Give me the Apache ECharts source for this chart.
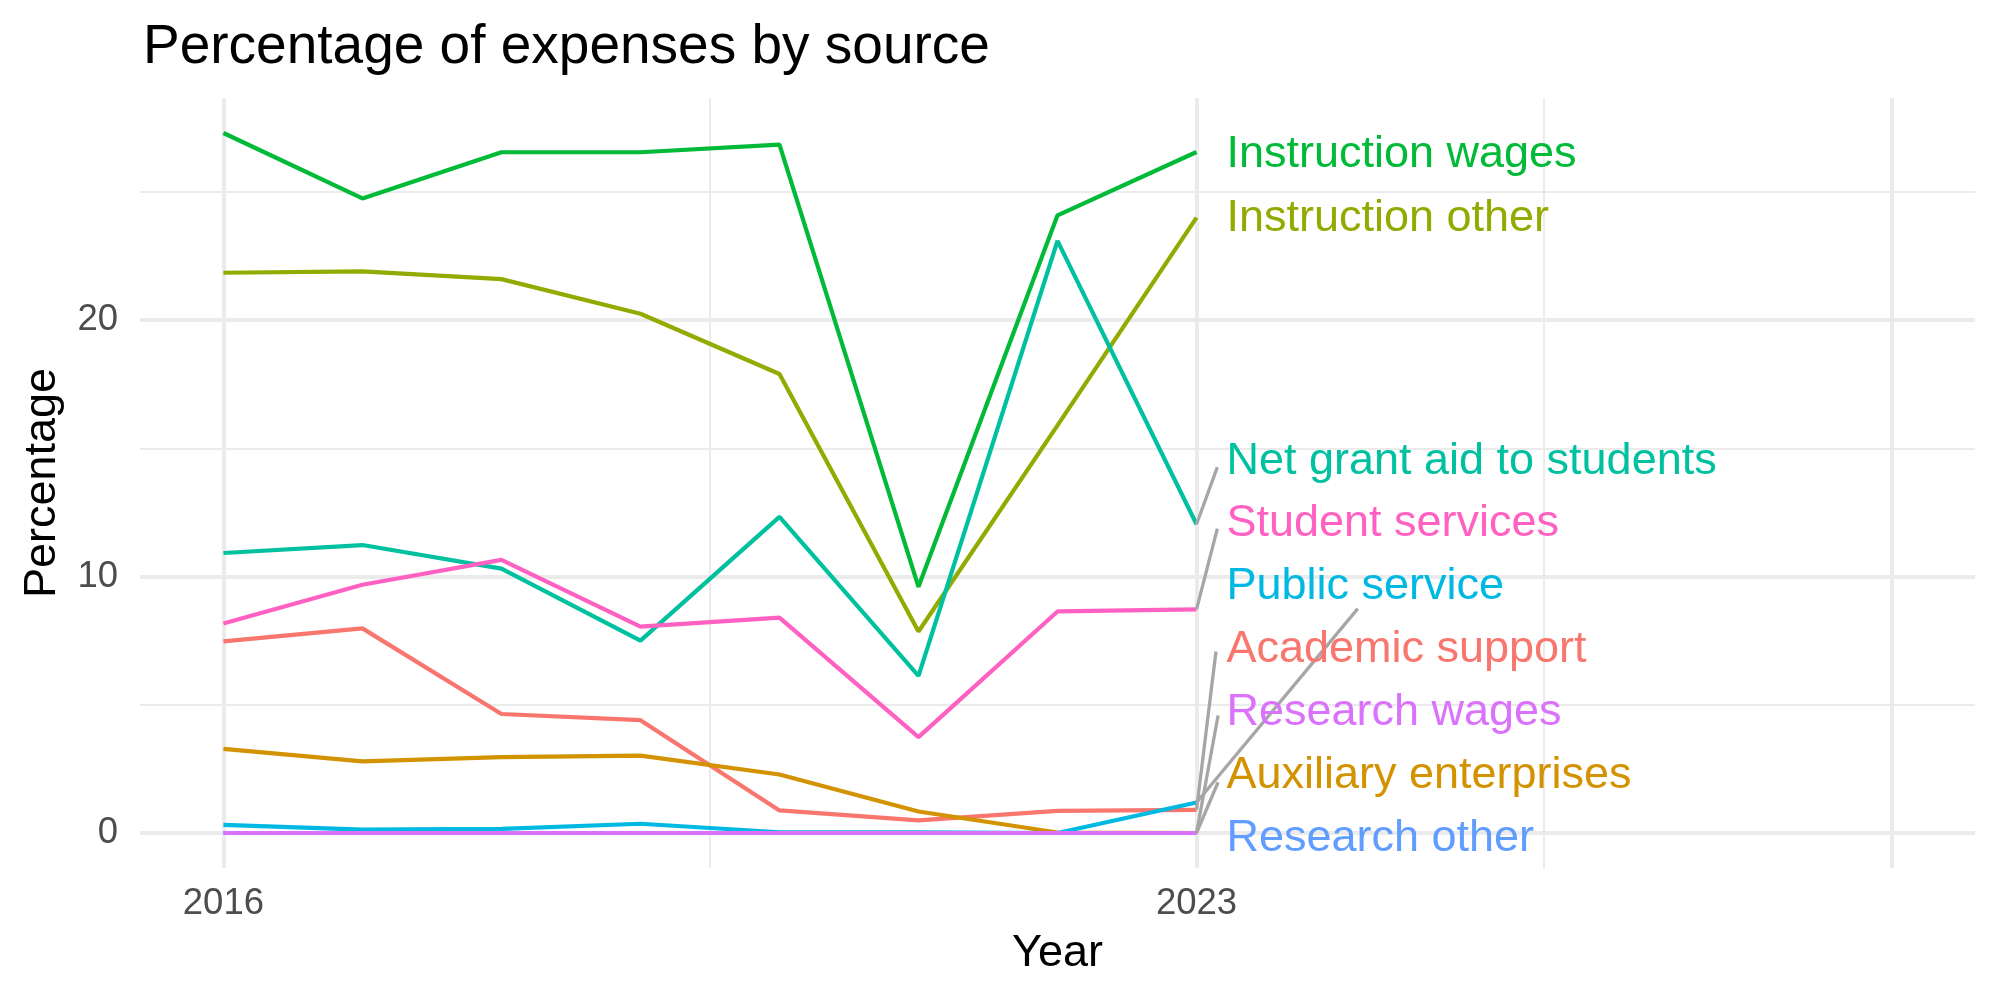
<!DOCTYPE html>
<html>
<head>
<meta charset="utf-8">
<script src="https://cdn.jsdelivr.net/npm/echarts@6/dist/echarts.min.js"></script>
<style>
  html, body { margin: 0; padding: 0; background: #fff; }
  #chart { width: 2000px; height: 1000px; }
</style>
</head>
<body>
<div id="chart"></div>
<script>
// values, one array per source
const years = [2016, 2017, 2018, 2019, 2020, 2021, 2022, 2023]
const academicSupport   = [7.47, 7.98, 4.64, 4.40, 0.88, 0.49, 0.86, 0.90]
const auxiliary         = [3.28, 2.79, 2.96, 3.02, 2.28, 0.84, 0.02, 0.00]
const instructionOther  = [21.85, 21.9, 21.6, 20.25, 17.9, 7.86, 15.9, 24.0]
const instructionWages  = [27.3, 24.75, 26.55, 26.55, 26.85, 9.6, 24.09, 26.56]
const netGrantAid       = [10.92, 11.23, 10.31, 7.5, 12.33, 6.13, 23.09, 12.04]
const publicService     = [0.32, 0.13, 0.16, 0.36, 0.03, 0.03, 0.0, 1.19]
const researchOther     = [0, 0, 0, 0, 0, 0, 0, 0]
const researchWages     = [0, 0, 0, 0, 0, 0, 0, 0]
const studentServices   = [8.17, 9.68, 10.65, 8.05, 8.4, 3.74, 8.64, 8.72]

const sourceNames = ['Academic support', 'Auxiliary enterprises', 'Instruction other',
  'Instruction wages', 'Net grant aid to students', 'Public service',
  'Research other', 'Research wages', 'Student services']
const sourceValues = [academicSupport, auxiliary, instructionOther, instructionWages,
  netGrantAid, publicService, researchOther, researchWages, studentServices]

const xTicks = [2016, 2023]
const yTicks = [0, 10, 20]

// style / layout
const colors = ['#F8766D', '#D39200', '#93AA00', '#00BA38', '#00C19F',
  '#00B9E3', '#619CFF', '#DB72FB', '#FF61C3']
const xMajor = [2016, 2023, 2028], xMinor = [2019.5, 2025.5]
const yMajor = [0, 10, 20], yMinor = [5, 15, 25]
// repelled label anchors [x, y] per source, same order as sourceNames
const labelAt = [[2023.215, 7.15], [2023.215, 2.23], [2023.215, 23.95], [2023.215, 26.45],
  [2023.215, 14.5], [2023.215, 9.61], [2023.215, -0.2], [2023.215, 4.7], [2023.215, 12.07]]
// segment end points (null = no segment drawn)
const segEnd = [[2023.14, 7.08], [2023.155, 1.98], null, null,
  [2023.15, 14.27], [2024.16, 8.75], null, [2023.155, 4.58], [2023.15, 11.87]]

const FONT = '"Liberation Sans", Arial, sans-serif'
const GRID = '#EBEBEB'

function gridLine(axis, v, width) {
  return { [axis]: v, lineStyle: { color: GRID, width, type: 'solid' } }
}

const el = document.getElementById('chart')
const chart = echarts.init(el, null, { renderer: 'canvas' })

const dataSeries = sourceNames.map((name, i) => ({
  name,
  type: 'line',
  z: 3,
  showSymbol: false,
  symbol: 'none',
  data: years.map((y, k) => [y, sourceValues[i][k]]),
  lineStyle: { color: colors[i], width: 4.2 },
  itemStyle: { color: colors[i] }
}))

const last = years.length - 1
const segData = []
sourceNames.forEach((name, i) => {
  if (!segEnd[i]) return
  segData.push({ coords: [[years[last], sourceValues[i][last]], segEnd[i]] })
})

const option = {
  animation: false,
  backgroundColor: '#fff',
  title: {
    text: 'Percentage of expenses by source',
    left: 138, top: 15,
    textStyle: { fontFamily: FONT, fontSize: 55, fontWeight: 'normal', color: '#000' }
  },
  grid: { left: 140, right: 25, top: 98, bottom: 132, containLabel: false },
  xAxis: {
    type: 'value', min: 2015.4, max: 2028.6,
    name: 'Year', nameLocation: 'middle', nameGap: 63,
    nameTextStyle: { fontFamily: FONT, fontSize: 45, color: '#000' },
    axisLine: { show: false }, axisTick: { show: false }, splitLine: { show: false },
    axisLabel: { customValues: xTicks, margin: 17, fontFamily: FONT, fontSize: 36.5, color: '#4D4D4D',
      formatter: v => String(v) }
  },
  yAxis: {
    type: 'value', min: -1.365, max: 28.665,
    name: 'Percentage', nameLocation: 'middle', nameGap: 75, nameRotate: 90,
    nameTextStyle: { fontFamily: FONT, fontSize: 45, color: '#000' },
    axisLine: { show: false }, axisTick: { show: false }, splitLine: { show: false },
    axisLabel: { customValues: yTicks, margin: 22, fontFamily: FONT, fontSize: 36.5, color: '#4D4D4D',
      formatter: v => String(v) }
  },
  series: [
    {
      name: 'grid', type: 'line', data: [], z: 1, silent: true,
      markLine: {
        silent: true, symbol: ['none', 'none'], z: 1, animation: false,
        label: { show: false },
        data: [
          ...yMinor.map(v => gridLine('yAxis', v, 2)),
          ...xMinor.map(v => gridLine('xAxis', v, 2)),
          ...yMajor.map(v => gridLine('yAxis', v, 4)),
          ...xMajor.map(v => gridLine('xAxis', v, 4))
        ]
      }
    },
    ...dataSeries,
    {
      name: 'segments', type: 'lines', coordinateSystem: 'cartesian2d', z: 4, silent: true,
      lineStyle: { color: '#A6A6A6', width: 3.3, opacity: 1, curveness: 0 },
      data: segData
    },
    {
      name: 'labels', type: 'scatter', z: 5, silent: true, symbolSize: 0,
      itemStyle: { opacity: 1 },
      data: sourceNames.map((name, i) => ({
        value: labelAt[i],
        itemStyle: { opacity: 1, color: colors[i] },
        label: {
          show: true, position: 'right', distance: 0, formatter: name, opacity: 1,
          fontFamily: FONT, fontSize: 45, color: colors[i]
        }
      }))
    }
  ]
}

chart.setOption(option)
window.addEventListener('resize', () => chart.resize())
</script>
</body>
</html>
